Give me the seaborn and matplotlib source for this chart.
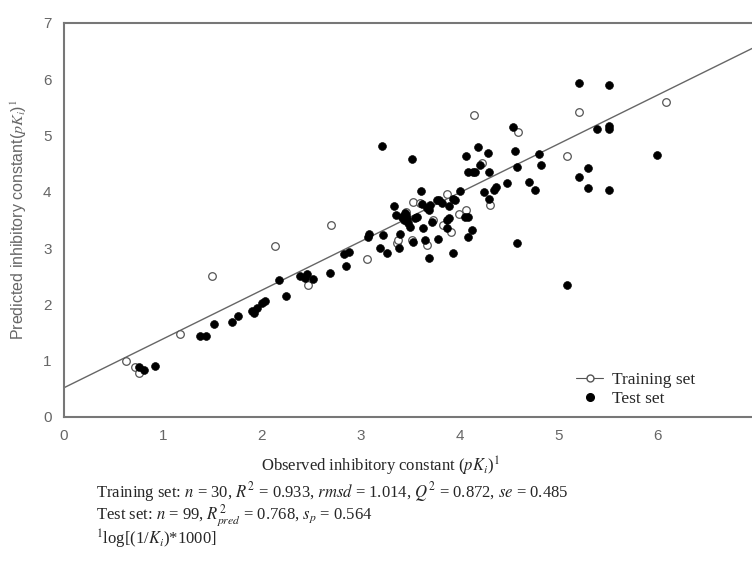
import numpy as np
import pandas as pd
import matplotlib
matplotlib.use("Agg")
import matplotlib.pyplot as plt
from matplotlib.lines import Line2D
import seaborn as sns

# training set (open circles): observed vs predicted pKi
train_obs = [0.63, 0.72, 0.76, 1.17, 1.50, 2.13, 2.47, 2.70, 3.06, 3.37,
             3.46, 3.53, 3.52, 3.67, 3.73, 3.83, 3.87, 3.91, 4.00, 4.07,
             4.15, 4.23, 4.31, 4.59, 5.09, 5.21, 6.09, 3.38, 3.60, 3.42]
train_pred = [1.00, 0.88, 0.79, 1.48, 2.50, 3.04, 2.34, 3.41, 2.80, 3.10,
              3.65, 3.82, 3.14, 3.05, 3.50, 3.42, 3.97, 3.29, 3.60, 3.68,
              5.36, 4.52, 3.77, 5.06, 4.63, 5.41, 5.59, 3.14, 3.80, 3.55]

# test set (filled circles)
test_obs = [0.76, 0.81, 0.92, 1.38, 1.44, 1.52, 1.70, 1.76, 1.92, 1.95,
            2.00, 2.03, 1.90, 2.17, 2.25, 2.39, 2.46, 2.52, 2.44, 2.69,
            2.83, 2.88, 2.85, 3.08, 3.09, 3.20, 3.23, 3.27, 3.22, 3.34,
            3.39, 3.40, 3.42, 3.45, 3.48, 3.50, 3.44, 3.46, 3.52, 3.53,
            3.55, 3.57, 3.61, 3.62, 3.63, 3.65, 3.67, 3.69, 3.70, 3.72,
            3.69, 3.77, 3.78, 3.79, 3.82, 3.87, 3.89, 3.87, 3.89, 3.94,
            3.94, 3.96, 4.01, 4.06, 4.09, 4.07, 4.09, 4.09, 4.13, 4.14,
            4.16, 4.19, 4.21, 4.25, 4.29, 4.30, 4.30, 4.35, 4.37, 4.48,
            4.54, 4.56, 4.58, 4.58, 4.70, 4.76, 4.80, 4.83, 5.09, 5.21,
            5.21, 5.30, 5.30, 5.39, 5.51, 5.51, 5.51, 5.51, 6.00, 3.36, 3.47]
test_pred = [0.89, 0.83, 0.90, 1.44, 1.44, 1.65, 1.69, 1.79, 1.84, 1.93,
             2.02, 2.06, 1.88, 2.43, 2.15, 2.50, 2.54, 2.46, 2.47, 2.56,
             2.89, 2.94, 2.68, 3.19, 3.26, 3.00, 3.23, 2.92, 4.82, 3.74,
             3.00, 3.26, 3.56, 3.62, 3.44, 3.38, 3.50, 3.58, 4.58, 3.11,
             3.53, 3.56, 4.02, 3.78, 3.35, 3.14, 3.71, 2.82, 3.77, 3.47,
             3.68, 3.86, 3.17, 3.85, 3.80, 3.50, 3.74, 3.35, 3.53, 2.91,
             3.88, 3.86, 4.02, 3.56, 3.56, 4.63, 4.36, 3.20, 3.32, 4.36,
             4.36, 4.80, 4.48, 4.00, 4.69, 4.36, 3.87, 4.03, 4.09, 4.15,
             5.16, 4.72, 4.45, 3.10, 4.18, 4.03, 4.67, 4.47, 2.34, 5.94,
             4.27, 4.42, 4.06, 5.11, 5.89, 5.17, 5.11, 4.03, 4.66, 3.58, 3.52]

x_tick_labels = ["0", "1", "2", "3", "4", "5", "6", ""]

# fitted line
fit_intercept = 0.52
fit_slope = 0.866

train_df = pd.DataFrame({"obs": train_obs, "pred": train_pred})
test_df = pd.DataFrame({"obs": test_obs, "pred": test_pred})

sns.set_style("white")
plt.rcParams["font.family"] = ["Liberation Sans", "DejaVu Sans"]
plt.rcParams["mathtext.fontset"] = "stix"

fig = plt.figure(figsize=(7.52, 5.63), dpi=100)
ax = fig.add_axes([64 / 752, 1 - 417 / 563, 692 / 752, 394 / 563])

# regression line
xs = np.array([0, 7])
ax.plot(xs, fit_intercept + fit_slope * xs, color="#666666", lw=1.0, zorder=1)

sns.scatterplot(data=test_df, x="obs", y="pred", ax=ax, color="black",
                edgecolor="black", s=32, zorder=3)
sns.scatterplot(data=train_df, x="obs", y="pred", ax=ax, facecolor="white",
                edgecolor="#555555", linewidth=0.9, s=30, zorder=2)

ax.set_xlim(0, 7)
ax.set_ylim(0, 7)
ax.set_xticks(range(0, 8))
ax.set_xticklabels(x_tick_labels)
ax.set_yticks(range(0, 8))
ax.tick_params(axis="both", direction="out", length=3, width=1, color="#777777",
               labelcolor="#666666", labelsize=11, pad=6)
for side in ["left", "bottom", "top"]:
    ax.spines[side].set_color("#777777")
    ax.spines[side].set_linewidth(1.5)
ax.spines["right"].set_visible(False)

ax.set_xlabel("")
ax.set_ylabel("Predicted inhibitory constant($pK_i$)$^1$", color="#666666",
              fontsize=11.5, labelpad=10)

handles = [
    Line2D([0], [0], color="#555555", lw=0.8, marker="o", markerfacecolor="white",
           markeredgecolor="#555555", markersize=5),
    Line2D([0], [0], color="black", lw=0, marker="o", markersize=5.5),
]
ax.legend(handles, ["Training set", "Test set"], loc="lower right",
          bbox_to_anchor=(0.935, -0.015), frameon=False, handlelength=1.6,
          handletextpad=0.5, labelspacing=0.2,
          prop={"family": "Liberation Serif", "size": 12.5})

serif = {"family": "Liberation Serif", "size": 12}
fig.text(380 / 752, 1 - 466 / 563, "Observed inhibitory constant ($pK_i$)$^1$",
         ha="center", va="center", fontdict=serif)
fig.text(96 / 752, 1 - 492 / 563,
         "Training set: $n$ = 30, $R^2$ = 0.933, $rmsd$ = 1.014, "
         "$Q^2$ = 0.872, $se$ = 0.485",
         ha="left", va="center", fontdict=serif)
fig.text(96 / 752, 1 - 515 / 563,
         "Test set: $n$ = 99, $R^2_{pred}$ = 0.768, $s_p$ = 0.564",
         ha="left", va="center", fontdict=serif)
fig.text(96 / 752, 1 - 539 / 563, "$^1$log[(1/$K_i$)*1000]",
         ha="left", va="center", fontdict=serif)

fig.savefig("out.png", dpi=100)
